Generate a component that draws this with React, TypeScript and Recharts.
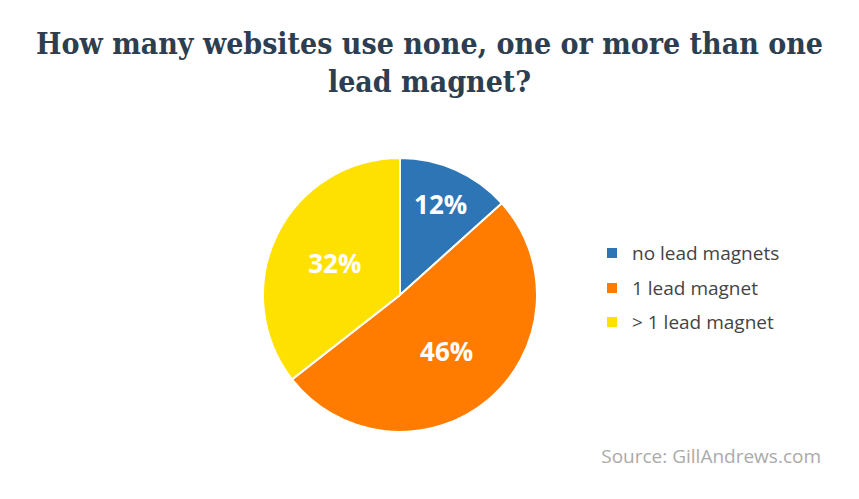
import React from "react";
import { PieChart, Pie, Cell, Legend } from "recharts";

const categories = ["no lead magnets", "1 lead magnet", "> 1 lead magnet"];
const values = [12, 46, 32];
const colors = ["#2e75b6", "#ff7c00", "#ffe100"];
const titleLines = ["How many websites use none, one or more than one", "lead magnet?"];
const sourceText = "Source: GillAndrews.com";

const data = categories.map((name, i) => ({ name, value: values[i] }));
const labelRadius = [0.73, 0.53, 0.53];

const RADIAN = Math.PI / 180;
const renderLabel = (props: any) => {
  const { cx, cy, midAngle, outerRadius, index, value } = props;
  const r = outerRadius * labelRadius[index];
  const x = cx + r * Math.cos(-midAngle * RADIAN);
  const y = cy + r * Math.sin(-midAngle * RADIAN);
  return (
    <text x={x} y={y} fill="#ffffff" textAnchor="middle" dominantBaseline="central"
      style={{ fontFamily: "'Open Sans', sans-serif", fontWeight: 700, fontSize: 26 }}>
      {value}%
    </text>
  );
};

const renderLegend = (props: any) => {
  const payload = [...(props.payload || [])].sort(
    (a: any, b: any) => categories.indexOf(a.value) - categories.indexOf(b.value)
  );
  return (
    <div style={{ fontFamily: "'Open Sans', sans-serif", fontSize: 19, color: "#444" }}>
      {payload.map((p: any, i: number) => (
        <div key={i} style={{ display: "flex", alignItems: "center", height: 34.5 }}>
          <span style={{ display: "inline-block", width: 10, height: 10, background: p.color, marginRight: 15 }} />
          <span>{p.value}</span>
        </div>
      ))}
    </div>
  );
};

export default function App() {
  return (
    <div style={{ position: "fixed", left: 0, top: 0, width: 859, height: 499, background: "#fff", overflow: "hidden" }}>
      <div style={{ position: "absolute", left: 0, top: 25, width: 859, textAlign: "center",
        fontFamily: "'DejaVu Serif', serif", fontStretch: "condensed", fontWeight: 700, fontSize: 30, lineHeight: "38px", color: "#2c3e50" }}>
        {titleLines.map((l, i) => <div key={i}>{l}</div>)}
      </div>
      <PieChart width={859} height={499} margin={{ top: 0, right: 0, bottom: 0, left: 0 }}
        style={{ position: "absolute", left: 0, top: 0 }}>
        <Pie data={data} dataKey="value" nameKey="name" cx={400} cy={295} outerRadius={137}
          startAngle={90} endAngle={-270} stroke="#ffffff" strokeWidth={2}
          isAnimationActive={false} labelLine={false} label={renderLabel}>
          {data.map((d, i) => <Cell key={i} fill={colors[i]} />)}
        </Pie>
        <Legend layout="vertical" align="right" verticalAlign="middle" content={renderLegend}
          wrapperStyle={{ left: 607, top: 236, width: 230 }} />
      </PieChart>
      <div style={{ position: "absolute", right: 38, top: 443, fontFamily: "'Open Sans', sans-serif", fontSize: 19, color: "#aaaaaa" }}>
        {sourceText}
      </div>
    </div>
  );
}
